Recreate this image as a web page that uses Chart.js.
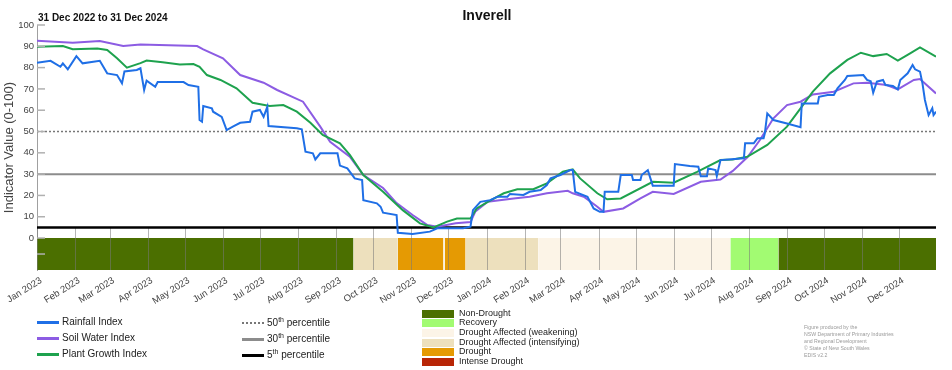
<!DOCTYPE html>
<html>
<head>
<meta charset="utf-8">
<title>Inverell</title>
<script src="https://cdn.jsdelivr.net/npm/chart.js@4.4.1/dist/chart.umd.min.js"></script>
<style>
    body { margin: 0; background: #fff; font-family: "Liberation Sans", Arial, sans-serif; color: #222; }
    #wrap { position: relative; width: 952px; height: 370px; overflow: hidden; }
    #droughtChart { position: absolute; left: 0; top: 0; }
    .title { position: absolute; left: 0; width: 974px; top: 7px; text-align: center; font-weight: bold; font-size: 14px; color: #111; }
    .period { position: absolute; left: 38px; top: 12px; font-weight: bold; font-size: 10px; color: #111; }
    .legend { position: absolute; font-size: 10px; color: #222; }
    .legend .row { height: 16px; line-height: 16px; white-space: nowrap; }
    .legend .line { display: inline-block; width: 22px; height: 0; border-top: 3px solid; vertical-align: middle; margin-right: 3px; }
    .legend sup { font-size: 7px; line-height: 0; }
    #indexLegend { left: 37px; top: 314px; }
    #pctLegend { left: 242px; top: 315px; }
    #statusLegend { left: 422px; top: 308.5px; font-size: 9px; }
    #statusLegend .row { height: 9.7px; line-height: 9.7px; }
    #statusLegend .box { display: inline-block; width: 32px; height: 8px; vertical-align: top; margin: 1px 5px 0 0; }
    .credit { position: absolute; left: 804px; top: 324px; font-size: 5.2px; line-height: 7px; color: #9a9a9a; }
</style>
</head>
<body>
<div id="wrap">
    <canvas id="droughtChart" width="952" height="370"></canvas>
    <div class="title">Inverell</div>
    <div class="period">31 Dec 2022 to 31 Dec 2024</div>
    <div class="legend" id="indexLegend"></div>
    <div class="legend" id="pctLegend"></div>
    <div class="legend" id="statusLegend"></div>
    <div class="credit">Figure produced by the<br>NSW Department of Primary Industries<br>and Regional Development<br>© State of New South Wales<br>EDIS v2.2</div>
</div>
<script>
// Trục thời gian
const startDate = '2023-01-01';
const endDate = '2024-12-31';
const monthNames = ['Jan', 'Feb', 'Mar', 'Apr', 'May', 'Jun', 'Jul', 'Aug', 'Sep', 'Oct', 'Nov', 'Dec'];
const monthLabels = [
    'Jan 2023', 'Feb 2023', 'Mar 2023', 'Apr 2023', 'May 2023', 'Jun 2023',
    'Jul 2023', 'Aug 2023', 'Sep 2023', 'Oct 2023', 'Nov 2023', 'Dec 2023',
    'Jan 2024', 'Feb 2024', 'Mar 2024', 'Apr 2024', 'May 2024', 'Jun 2024',
    'Jul 2024', 'Aug 2024', 'Sep 2024', 'Oct 2024', 'Nov 2024', 'Dec 2024'
];
const yTickValues = [-7.5, 0, 10, 20, 30, 40, 50, 60, 70, 80, 90, 100];

// Rainfall Index
const rainfallDates = [
    '2023-01-01', '2023-01-12', '2023-01-20', '2023-01-22', '2023-01-26', '2023-02-02', '2023-02-07', '2023-02-21', '2023-02-27', '2023-03-07',
    '2023-03-11', '2023-03-13', '2023-03-23', '2023-03-26', '2023-03-29', '2023-03-31', '2023-04-07', '2023-04-09', '2023-04-30', '2023-05-04',
    '2023-05-12', '2023-05-13', '2023-05-15', '2023-05-16', '2023-05-23', '2023-05-24', '2023-05-31', '2023-06-04', '2023-06-09', '2023-06-15',
    '2023-06-23', '2023-06-25', '2023-07-01', '2023-07-04', '2023-07-07', '2023-07-08', '2023-07-31', '2023-08-04', '2023-08-07', '2023-08-13',
    '2023-08-15', '2023-08-19', '2023-09-02', '2023-09-04', '2023-09-10', '2023-09-16', '2023-09-22', '2023-09-23', '2023-10-04', '2023-10-07',
    '2023-10-09', '2023-10-20', '2023-10-21', '2023-11-02', '2023-11-16', '2023-11-22', '2023-12-13', '2023-12-19', '2023-12-21', '2023-12-27',
    '2024-01-04', '2024-01-10', '2024-01-18', '2024-01-20', '2024-01-31', '2024-02-05', '2024-02-14', '2024-02-19', '2024-02-22', '2024-03-01',
    '2024-03-09', '2024-03-11', '2024-03-13', '2024-03-23', '2024-03-28', '2024-04-02', '2024-04-05', '2024-04-06', '2024-04-17', '2024-04-19',
    '2024-04-28', '2024-04-29', '2024-05-05', '2024-05-06', '2024-05-11', '2024-05-15', '2024-06-01', '2024-06-02', '2024-06-14', '2024-06-21',
    '2024-06-23', '2024-06-28', '2024-06-29', '2024-07-05', '2024-07-06', '2024-07-09', '2024-07-28', '2024-07-29', '2024-08-05', '2024-08-08',
    '2024-08-13', '2024-08-14', '2024-08-16', '2024-08-21', '2024-09-01', '2024-09-12', '2024-09-13', '2024-09-26', '2024-09-27', '2024-10-04',
    '2024-10-09', '2024-10-12', '2024-10-18', '2024-10-20', '2024-11-02', '2024-11-05', '2024-11-08', '2024-11-10', '2024-11-13', '2024-11-18',
    '2024-11-20', '2024-11-26', '2024-11-30', '2024-12-02', '2024-12-08', '2024-12-12', '2024-12-14', '2024-12-18', '2024-12-20', '2024-12-22',
    '2024-12-25', '2024-12-28', '2024-12-29', '2024-12-31'
];
const rainfallValues = [
    82.3, 83.2, 80.4, 82, 79.2, 85.4, 82, 83.2, 77.3, 76.5,
    72.6, 78.2, 78.9, 79.7, 69.5, 73.9, 71, 73.2, 73.2, 71.8,
    71, 55.4, 54.6, 62, 60.9, 59.3, 56.9, 50.7, 52.3, 54.1,
    54.6, 59.3, 60.1, 56.9, 61.6, 52.6, 51.5, 51, 40.5, 39.8,
    36.9, 39.8, 39.8, 34, 32.7, 28, 27.2, 17.8, 16.3, 14.7,
    11.9, 10.8, 2.5, 1.9, 3, 4.6, 4.6, 5.3, 13.1, 17,
    17.8, 19.4, 19.4, 20.7, 20.2, 21.7, 22.5, 24.9, 28, 29.6,
    31.9, 31.9, 21.7, 19.4, 13.9, 12.3, 12.3, 21.7, 21.7, 29.6,
    29.6, 27.2, 27.2, 29.6, 31.9, 24.6, 24.6, 34.7, 33.8, 33.5,
    29, 29, 32.7, 31.9, 29.1, 36.6, 37.4, 44.5, 44.5, 46.8,
    46.8, 49.1, 58.5, 55.4, 53.8, 52, 63.2, 63.2, 66.3, 67.1,
    67.1, 70.3, 74.2, 76.1, 76.5, 74.2, 73.6, 68.2, 73.4, 74.2,
    71.8, 71.4, 69.8, 74.2, 77.3, 81.2, 79.2, 78.1, 72.6, 64.8,
    57.7, 60.9, 57.7, 59.3
];

// Soil Water Index
const soilDates = [
    '2023-01-01', '2023-01-30', '2023-02-21', '2023-03-12', '2023-03-26', '2023-05-11', '2023-05-16', '2023-06-01', '2023-06-15', '2023-07-04',
    '2023-07-15', '2023-08-05', '2023-08-19', '2023-08-27', '2023-09-12', '2023-09-23', '2023-10-09', '2023-10-20', '2023-11-02', '2023-11-14',
    '2023-11-22', '2023-12-07', '2023-12-19', '2023-12-23', '2024-01-02', '2024-01-23', '2024-02-05', '2024-02-19', '2024-03-07', '2024-03-11',
    '2024-03-20', '2024-03-31', '2024-04-05', '2024-04-21', '2024-05-05', '2024-05-15', '2024-06-01', '2024-06-23', '2024-07-09', '2024-07-19',
    '2024-07-31', '2024-08-10', '2024-08-21', '2024-09-01', '2024-09-12', '2024-09-22', '2024-10-09', '2024-10-25', '2024-11-05', '2024-11-21',
    '2024-11-30', '2024-12-13', '2024-12-18', '2024-12-31'
];
const soilValues = [
    92.6, 91.7, 92.5, 90.1, 90.9, 90.1, 88.6, 84.4, 76.5, 72.9,
    69.5, 64, 52.3, 45.2, 38.2, 29.6, 23.5, 16.4, 10.8, 6.1,
    5.3, 6.9, 7.5, 12.5, 17, 18.6, 19.4, 21, 22.2, 21,
    19.4, 14.7, 12.3, 13.9, 18.6, 21.7, 20.7, 26.4, 27.5, 31.5,
    38, 46, 56.2, 62.4, 64, 67.4, 68.7, 72.6, 72.9, 71.8,
    69.8, 74.2, 74.6, 67.9
];

// Plant Growth Index
const plantDates = [
    '2023-01-01', '2023-01-22', '2023-01-30', '2023-02-19', '2023-02-27', '2023-03-07', '2023-03-15', '2023-03-26', '2023-03-31', '2023-04-13',
    '2023-04-27', '2023-05-08', '2023-05-13', '2023-05-19', '2023-05-30', '2023-06-12', '2023-06-25', '2023-07-09', '2023-07-20', '2023-07-31',
    '2023-08-11', '2023-08-21', '2023-09-04', '2023-09-12', '2023-09-23', '2023-10-09', '2023-10-25', '2023-11-08', '2023-11-19', '2023-11-30',
    '2023-12-08', '2023-12-19', '2023-12-24', '2024-01-02', '2024-01-15', '2024-01-26', '2024-02-08', '2024-02-19', '2024-03-03', '2024-03-11',
    '2024-03-17', '2024-03-31', '2024-04-08', '2024-04-19', '2024-05-15', '2024-06-01', '2024-06-20', '2024-07-09', '2024-07-19', '2024-07-31',
    '2024-08-16', '2024-09-01', '2024-09-12', '2024-09-22', '2024-10-06', '2024-10-20', '2024-10-31', '2024-11-10', '2024-11-21', '2024-11-30',
    '2024-12-10', '2024-12-18', '2024-12-31'
];
const plantValues = [
    89.8, 90.1, 88.6, 89, 88.3, 84.4, 80, 82.1, 83.3, 82.5,
    81.5, 81.7, 80.4, 76.5, 74.2, 70.3, 63.5, 62, 62.4, 59.3,
    54.1, 48.4, 44.5, 39, 29.6, 21.7, 13.1, 6.9, 5, 7.7,
    9.2, 9.2, 13.9, 17, 21, 22.9, 22.9, 25.7, 31.1, 32.2,
    28, 21, 18.2, 18.6, 26.4, 26, 31.1, 36.6, 36.9, 38.2,
    43.7, 52.3, 60.9, 68.7, 77.3, 83.6, 87, 85.4, 86.4, 83.3,
    86.7, 89.5, 85.1
];

// Đường phân vị
const percentileValues = [50, 30, 5];
const percentileSuffix = ['th', 'th', 'th'];

// Trạng thái hạn hán
const statusNames = ['Non-Drought', 'Recovery', 'Drought Affected (weakening)', 'Drought Affected (intensifying)', 'Drought', 'Intense Drought'];
const periodStatus = ['Non-Drought', 'Drought Affected (intensifying)', 'Drought', 'Drought Affected (weakening)', 'Drought',
    'Drought Affected (intensifying)', 'Drought Affected (weakening)', 'Recovery', 'Non-Drought'];
const periodStart = ['2023-01-01', '2023-09-15', '2023-10-21', '2023-11-27', '2023-11-28', '2023-12-15', '2024-02-12', '2024-07-17', '2024-08-25'];
const periodEnd = ['2023-09-15', '2023-10-21', '2023-11-27', '2023-11-28', '2023-12-15', '2024-02-12', '2024-07-17', '2024-08-25', '2024-12-31'];

// Màu
const indexNames = ['Rainfall Index', 'Soil Water Index', 'Plant Growth Index'];
const indexColors = ['#1f6fe6', '#8c5ce3', '#1ea24e'];
const percentileColors = ['#777777', '#8c8c8c', '#000000'];
const statusColors = ['#4b6f00', '#a2fb72', '#fcf4e7', '#ede0bd', '#e59a03', '#b82506'];

function dayOf(s) {
    const p = s.split('-').map(Number);
    const s0 = startDate.split('-').map(Number);
    return (Date.UTC(p[0], p[1] - 1, p[2]) - Date.UTC(s0[0], s0[1] - 1, s0[2])) / 86400000;
}

function monthStart(label) {
    const parts = label.split(' ');
    return parts[1] + '-' + String(monthNames.indexOf(parts[0]) + 1).padStart(2, '0') + '-01';
}

function toPoints(dates, values) {
    return dates.map(function (d, i) {
        return { x: dayOf(d), y: values[i] };
    });
}

const datasets = [];

// Dải trạng thái (vẽ dưới cùng)
periodStatus.forEach(function (st, i) {
    datasets.push({
        label: st,
        data: [{ x: dayOf(periodStart[i]), y: 0 }, { x: dayOf(periodEnd[i]), y: 0 }],
        borderWidth: 0,
        borderColor: 'rgba(0,0,0,0)',
        backgroundColor: statusColors[statusNames.indexOf(st)],
        fill: { value: -15 },
        pointRadius: 0,
        order: 10
    });
});

percentileValues.forEach(function (v, i) {
    datasets.push({
        label: v + percentileSuffix[i] + ' percentile',
        data: [{ x: dayOf(startDate), y: v }, { x: dayOf(endDate), y: v }],
        borderColor: percentileColors[i],
        borderWidth: i === 0 ? 1.5 : (i === 1 ? 2 : 2.5),
        borderDash: i === 0 ? [2, 2] : [],
        pointRadius: 0,
        fill: false,
        order: 5
    });
});

const seriesDates = [rainfallDates, soilDates, plantDates];
const seriesValues = [rainfallValues, soilValues, plantValues];
const seriesOrder = [0, 2, 1];
indexNames.forEach(function (name, i) {
    datasets.push({
        label: name,
        data: toPoints(seriesDates[i], seriesValues[i]),
        borderColor: indexColors[i],
        borderWidth: 2,
        pointRadius: 0,
        fill: false,
        tension: 0,
        order: seriesOrder[i]
    });
});

// Lưới dọc trong dải trạng thái
const stripGrid = {
    id: 'stripGrid',
    afterDatasetDraw: function (chart, args) {
        if (args.index !== 0) return;
        const x = chart.scales.x, y = chart.scales.y, ctx = chart.ctx;
        const top = y.getPixelForValue(5), bottom = chart.chartArea.bottom;
        ctx.save();
        ctx.strokeStyle = 'rgba(120,120,120,0.55)';
        ctx.lineWidth = 1;
        x.ticks.forEach(function (t) {
            const px = Math.round(x.getPixelForValue(t.value)) + 0.5;
            ctx.beginPath();
            ctx.moveTo(px, top);
            ctx.lineTo(px, bottom);
            ctx.stroke();
        });
        ctx.restore();
    }
};

// Vạch chia trục y phía trong
const innerTicks = {
    id: 'innerTicks',
    afterDraw: function (chart) {
        const y = chart.scales.y, ctx = chart.ctx, left = chart.chartArea.left;
        ctx.save();
        ctx.strokeStyle = '#b0b0b0';
        ctx.lineWidth = 1.5;
        y.ticks.forEach(function (t) {
            const py = y.getPixelForValue(t.value);
            ctx.beginPath();
            ctx.moveTo(left, py);
            ctx.lineTo(left + 8, py);
            ctx.stroke();
        });
        ctx.restore();
    }
};

const tickFont = { family: '"Liberation Sans", Arial, sans-serif', size: 9.5 };

new Chart(document.getElementById('droughtChart').getContext('2d'), {
    type: 'line',
    data: { datasets: datasets },
    options: {
        responsive: false,
        animation: false,
        layout: { padding: { top: 25, right: 16, left: 0, bottom: 0 } },
        plugins: {
            legend: { display: false },
            tooltip: { enabled: false }
        },
        scales: {
            x: {
                type: 'linear',
                min: dayOf(startDate),
                max: dayOf(endDate),
                grid: { display: false },
                border: { display: false },
                afterBuildTicks: function (scale) {
                    scale.ticks = monthLabels.map(function (l) {
                        return { value: dayOf(monthStart(l)) };
                    });
                },
                afterFit: function (scale) {
                    scale.height = 100;
                },
                ticks: {
                    autoSkip: false,
                    minRotation: 32,
                    maxRotation: 32,
                    padding: -3,
                    labelOffset: 4,
                    color: '#444',
                    font: tickFont,
                    callback: function (value, index) {
                        return monthLabels[index];
                    }
                }
            },
            y: {
                min: -15,
                max: 100,
                grid: { display: false, drawTicks: false },
                border: { display: true, color: '#a0a0a0', width: 1 },
                afterBuildTicks: function (scale) {
                    scale.ticks = yTickValues.map(function (v) {
                        return { value: v };
                    });
                },
                afterFit: function (scale) {
                    scale.width = 37;
                },
                ticks: {
                    padding: 3,
                    color: '#444',
                    font: tickFont,
                    callback: function (value) {
                        return value < 0 ? '' : value;
                    }
                },
                title: {
                    display: true,
                    text: 'Indicator Value (0-100)',
                    color: '#444',
                    font: { family: '"Liberation Sans", Arial, sans-serif', size: 13 },
                    padding: { top: 2, bottom: 0 }
                }
            }
        }
    },
    plugins: [stripGrid, innerTicks]
});

// Chú giải HTML
let html = '';
indexNames.forEach(function (name, i) {
    html += `<div class="row"><span class="line" style="border-color:${indexColors[i]}"></span>${name}</div>`;
});
document.getElementById('indexLegend').innerHTML = html;

html = '';
percentileValues.forEach(function (v, i) {
    const style = i === 0 ? `border-top:2px dotted ${percentileColors[i]}` : `border-color:${percentileColors[i]}`;
    html += `<div class="row"><span class="line" style="${style}"></span>${v}<sup>${percentileSuffix[i]}</sup> percentile</div>`;
});
document.getElementById('pctLegend').innerHTML = html;

html = '';
statusNames.forEach(function (name, i) {
    html += `<div class="row"><span class="box" style="background:${statusColors[i]}"></span>${name}</div>`;
});
document.getElementById('statusLegend').innerHTML = html;
</script>
</body>
</html>
